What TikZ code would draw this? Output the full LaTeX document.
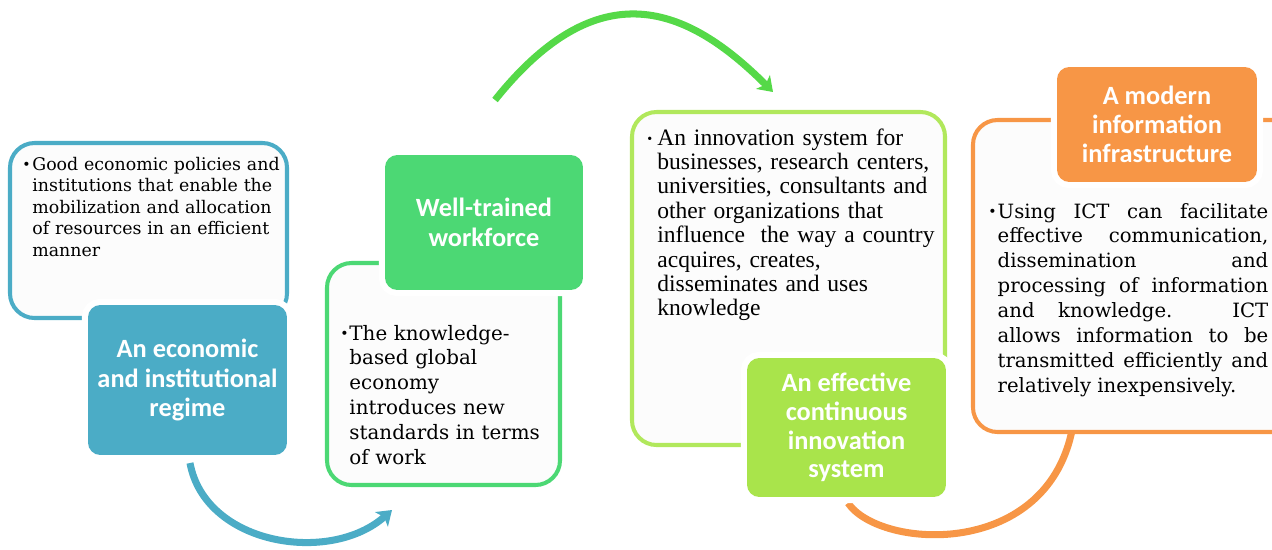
\documentclass[tikz,border=0pt]{standalone}
\usepackage{fontspec}
\setmainfont{DejaVu Serif}
\newfontfamily\timesf{Liberation Serif}
\newfontfamily\headf{Carlito}
\usetikzlibrary{fit,arrows.meta}
\definecolor{blueC}{HTML}{4BACC6}
\definecolor{greenC}{HTML}{4CD874}
\definecolor{arcG}{HTML}{55D948}
\definecolor{limeC}{HTML}{A9E44B}
\definecolor{limeO}{HTML}{B1E85C}
\definecolor{orangeC}{HTML}{F79646}
\definecolor{boxbg}{HTML}{FCFCFC}
\newcommand{\bul}[1]{\noindent\hangindent=#1\hangafter=1\makebox[#1][l]{\raisebox{0.1ex}{\fontsize{8}{8}\selectfont\textbullet}}}
\tikzset{
  outl/.style={draw=#1, line width=2.3pt, rounded corners=14pt, fill=boxbg, inner sep=0pt},
  head/.style={fill=#1, rounded corners=7pt, preaction={draw=white, line width=7pt},
    inner sep=0pt, text=white, align=center, anchor=center},
  hfont/.style={font=\headf\bfseries\fontsize{15}{#1}\selectfont},
  arcline/.style={draw=#1, line width=4pt},
  tip/.style={-{Stealth[length=8pt,width=11pt,inset=2pt]}},
  body/.style={anchor=base west, inner sep=0pt, text width=#1},
}
\begin{document}
\begin{tikzpicture}[x=0.02cm,y=-0.02cm]
\useasboundingbox (0,0) rectangle (1272,549);
\clip (0,0) rectangle (1272,549);

% outline boxes
\node[outl=blueC, fit={(10,143) (287,318)}] (o1) {};
\node[outl=greenC, fit={(327,263) (560,485)}] (o2) {};
\node[outl=limeO, fit={(632,112) (945,445)}] (o3) {};

% orange arc (under the orange box)
\coordinate (c3s) at (848,503);
\coordinate (c3e) at (1073,425);
\draw[arcline=orangeC] (c3s) .. controls (880,550) and (1050,560) .. (c3e);
\node[outl=orangeC, fit={(973,120) (1310,432)}] (o4) {};

% header boxes
\node[head=blueC, hfont=17pt, minimum width=3.98cm, minimum height=3.0cm] (h1) at (187.5,380)
  {An economic\\and institutional\\regime};
\node[head=greenC, hfont=17pt, minimum width=3.96cm, minimum height=2.7cm] (h2) at (484,222.5)
  {Well-trained\\workforce};
\node[head=limeC, hfont=16.3pt, minimum width=3.98cm, minimum height=2.78cm] (h3) at (846.5,427.5)
  {An effective\\continuous\\innovation\\system};
\node[head=orangeC, hfont=16.5pt, minimum width=4.0cm, minimum height=2.3cm] (h4) at (1157,124.5)
  {A modern\\information\\infrastructure};

% body texts
\node[body=5.4cm, font=\fontsize{9.9}{12.3}\selectfont] (t1) at (22,170)
  {\raggedright\bul{5.7pt}Good economic policies and\linebreak institutions that enable the\linebreak mobilization and allocation\linebreak of resources in an efficient\linebreak manner\par};
\node[body=4.6cm, font=\fontsize{11.3}{14.2}\selectfont] (t2) at (340,340)
  {\raggedright\bul{5.2pt}The knowledge-\linebreak based global\linebreak economy\linebreak introduces new\linebreak standards in terms\linebreak of work\par};
\node[body=6.0cm, font=\timesf\fontsize{13.4}{13.9}\selectfont] (t3) at (647,145)
  {\raggedright\bul{5.7pt}An innovation system for\linebreak businesses, research centers,\linebreak universities, consultants and\linebreak other organizations that\linebreak influence\ \ the way a country\linebreak acquires, creates,\linebreak disseminates and uses\linebreak knowledge\par};
\node[body=5.6cm, align=justify, font=\fontsize{11.2}{14.2}\selectfont] (t4) at (988,218)
  {\bul{5.3pt}Using ICT can facilitate\linebreak effective communication,\linebreak dissemination and\linebreak processing of information\linebreak and knowledge. ICT\linebreak allows information to be\linebreak transmitted efficiently and\linebreak relatively inexpensively.\par};

% arcs
\coordinate (c1s) at (190,463);
\coordinate (c1e) at (392,510);
\draw[arcline=blueC, tip] (c1s) .. controls (205,545) and (330,565) .. (c1e);
\coordinate (c2s) at (495,100);
\coordinate (c2e) at (773,92);
\draw[arcline=arcG, tip] (c2s) .. controls (599,-30) and (687,6) .. (c2e);
\end{tikzpicture}
\end{document}
